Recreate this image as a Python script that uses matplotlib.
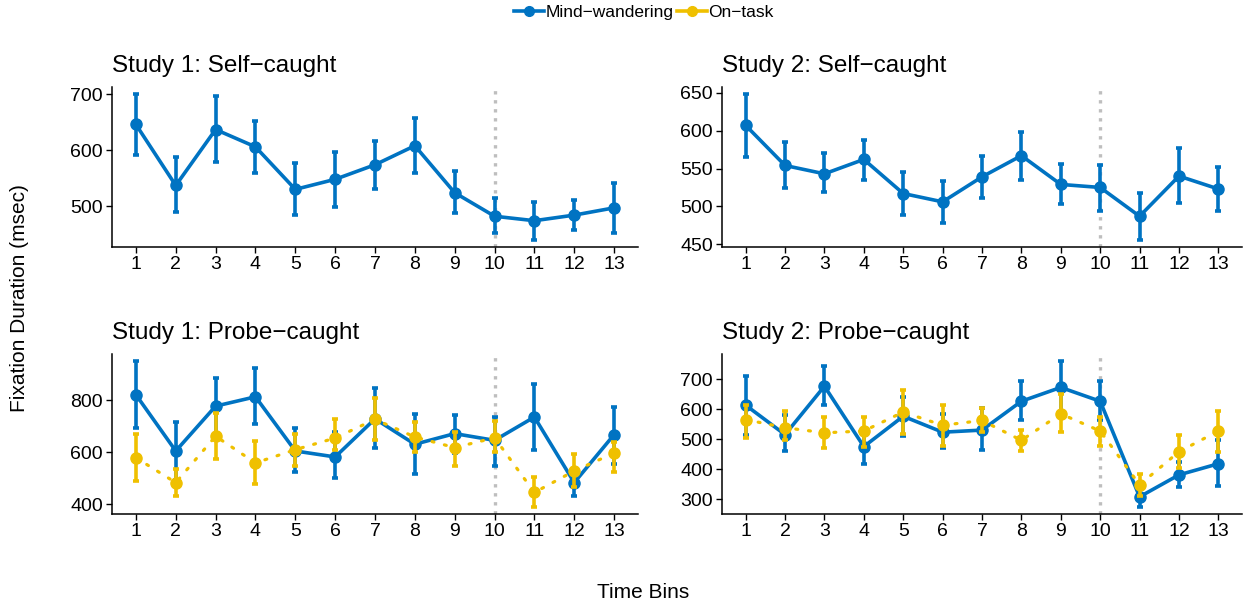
import numpy as np
import matplotlib
matplotlib.use('Agg')
import matplotlib.pyplot as plt
from matplotlib.lines import Line2D

plt.rcParams['font.family'] = ['Liberation Sans', 'DejaVu Sans']

blue = '#0073C2'
yellow = '#EFC000'

bins = list(range(1, 14))

# Study 1: Self-caught (mind-wandering only)
s1_self_mw = [646, 537, 637, 606, 530, 548, 574, 608, 524, 482, 474, 484, 497]
s1_self_mw_lo = [592, 489, 579, 560, 484, 499, 531, 559, 488, 452, 440, 457, 452]
s1_self_mw_hi = [700, 587, 697, 653, 578, 597, 617, 658, 563, 514, 508, 511, 542]

# Study 2: Self-caught
s2_self_mw = [607, 554, 543, 562, 517, 506, 539, 567, 529, 525, 487, 540, 523]
s2_self_mw_lo = [565, 524, 519, 535, 488, 478, 511, 535, 503, 494, 456, 504, 494]
s2_self_mw_hi = [648, 585, 570, 587, 546, 534, 566, 598, 556, 554, 518, 577, 552]

# Study 1: Probe-caught
s1_probe_mw = [822, 605, 778, 814, 605, 582, 729, 631, 672, 646, 736, 483, 668]
s1_probe_mw_lo = [694, 492, 668, 710, 523, 500, 617, 518, 597, 547, 608, 432, 556]
s1_probe_mw_hi = [951, 717, 887, 924, 692, 677, 847, 749, 745, 736, 862, 526, 774]
s1_probe_ot = [579, 483, 662, 559, 610, 655, 727, 659, 618, 656, 445, 528, 597]
s1_probe_ot_lo = [488, 432, 576, 477, 549, 608, 646, 601, 546, 601, 390, 467, 523]
s1_probe_ot_hi = [672, 535, 751, 644, 672, 727, 808, 715, 680, 719, 503, 592, 640]

# Study 2: Probe-caught
s2_probe_mw = [613, 515, 676, 475, 576, 523, 530, 626, 672, 626, 308, 381, 418]
s2_probe_mw_lo = [515, 460, 612, 418, 510, 471, 464, 562, 587, 562, 275, 339, 343]
s2_probe_mw_hi = [709, 580, 742, 532, 639, 582, 604, 692, 759, 692, 344, 424, 496]
s2_probe_ot = [565, 538, 521, 527, 590, 546, 562, 496, 584, 527, 348, 458, 527]
s2_probe_ot_lo = [504, 496, 469, 473, 518, 477, 523, 460, 523, 477, 311, 405, 458]
s2_probe_ot_hi = [615, 593, 574, 573, 662, 615, 602, 530, 650, 574, 385, 513, 593]

W, H = 1243, 606
fig = plt.figure(figsize=(W / 100, H / 100), dpi=100)


def px_axes(x0, x1, y0, y1):
    return fig.add_axes([x0 / W, 1 - y1 / H, (x1 - x0) / W, (y1 - y0) / H])


def draw_series(ax, y, lo, hi, color, dotted, z):
    y = np.array(y)
    err = [y - np.array(lo), np.array(hi) - y]
    ax.errorbar(bins, y, yerr=err, fmt='none', ecolor=color, elinewidth=2.6,
                capsize=2.2, capthick=2.6, zorder=z)
    if dotted:
        ax.plot(bins, y, color=color, lw=2.3, linestyle=(0, (0.6, 3.4)),
                dash_capstyle='round', zorder=z + 1)
    else:
        ax.plot(bins, y, color=color, lw=2.6, zorder=z + 1)
    ax.plot(bins, y, 'o', color=color, markersize=8, zorder=z + 2)


def setup(ax, title, yticks, lows, highs):
    lo = min(min(l) for l in lows)
    hi = max(max(h) for h in highs)
    pad = (hi - lo) * 0.05
    ax.set_ylim(lo - pad, hi + pad)
    ax.set_xlim(0.4, 13.6)
    ax.axvline(10, color='#BEBEBE', lw=2.4, linestyle=(0, (1, 1.7)), zorder=0)
    ax.set_xticks(bins)
    ax.set_yticks(yticks)
    ax.tick_params(labelsize=14, length=4, width=1, colors='black', pad=2.5)
    for s in ['top', 'right']:
        ax.spines[s].set_visible(False)
    for s in ['left', 'bottom']:
        ax.spines[s].set_linewidth(1.1)
    ax.set_title(title, loc='left', fontsize=17.5, pad=11)


ax1 = px_axes(112, 638, 87, 247)
draw_series(ax1, s1_self_mw, s1_self_mw_lo, s1_self_mw_hi, blue, False, 2)
setup(ax1, 'Study 1: Self\u2212caught', [500, 600, 700], [s1_self_mw_lo], [s1_self_mw_hi])

ax2 = px_axes(722, 1242, 87, 247)
draw_series(ax2, s2_self_mw, s2_self_mw_lo, s2_self_mw_hi, blue, False, 2)
setup(ax2, 'Study 2: Self\u2212caught', [450, 500, 550, 600, 650], [s2_self_mw_lo], [s2_self_mw_hi])

ax3 = px_axes(112, 638, 354, 514)
draw_series(ax3, s1_probe_mw, s1_probe_mw_lo, s1_probe_mw_hi, blue, False, 2)
draw_series(ax3, s1_probe_ot, s1_probe_ot_lo, s1_probe_ot_hi, yellow, True, 5)
setup(ax3, 'Study 1: Probe\u2212caught', [400, 600, 800],
      [s1_probe_mw_lo, s1_probe_ot_lo], [s1_probe_mw_hi, s1_probe_ot_hi])

ax4 = px_axes(722, 1242, 354, 514)
draw_series(ax4, s2_probe_mw, s2_probe_mw_lo, s2_probe_mw_hi, blue, False, 2)
draw_series(ax4, s2_probe_ot, s2_probe_ot_lo, s2_probe_ot_hi, yellow, True, 5)
setup(ax4, 'Study 2: Probe\u2212caught', [300, 400, 500, 600, 700],
      [s2_probe_mw_lo, s2_probe_ot_lo], [s2_probe_mw_hi, s2_probe_ot_hi])

fig.text(20 / W, 1 - 298 / H, 'Fixation Duration (msec)', rotation=90,
         ha='center', va='center', fontsize=15)
fig.text(643 / W, 1 - 592 / H, 'Time Bins', ha='center', va='center', fontsize=15)

handles = [Line2D([], [], color=blue, lw=2.6, marker='o', markersize=7),
           Line2D([], [], color=yellow, lw=2.6, marker='o', markersize=7)]
fig.legend(handles, ['Mind\u2212wandering', 'On\u2212task'], loc='center',
           bbox_to_anchor=(644 / W, 1 - 12 / H), ncol=2, frameon=False,
           fontsize=12.5, handlelength=1.7, handletextpad=0.1, columnspacing=0.2,
           borderpad=0)

fig.savefig('out.png', dpi=100)
